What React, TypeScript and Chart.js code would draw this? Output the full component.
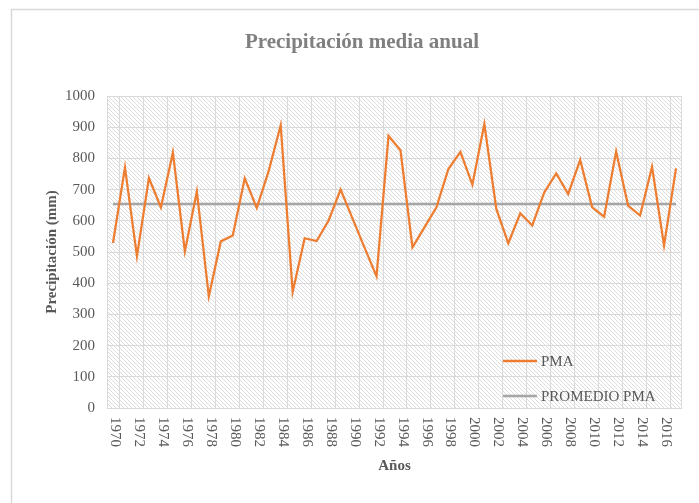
import React, { useEffect, useRef } from "react";
import { Chart, registerables } from "chart.js";

Chart.register(...registerables);

const years: string[] = [
  "1970", "1971", "1972", "1973", "1974", "1975", "1976", "1977", "1978", "1979",
  "1980", "1981", "1982", "1983", "1984", "1985", "1986", "1987", "1988", "1989",
  "1990", "1991", "1992", "1993", "1994", "1995", "1996", "1997", "1998", "1999",
  "2000", "2001", "2002", "2003", "2004", "2005", "2006", "2007", "2008", "2009",
  "2010", "2011", "2012", "2013", "2014", "2015", "2016", "2017",
];

const pma: number[] = [
  529, 771, 487, 737, 643, 819, 502, 694, 358, 534,
  553, 736, 641, 760, 906, 372, 544, 535, 601, 700,
  607, 514, 422, 872, 826, 515, 579, 643, 766, 821,
  716, 910, 638, 528, 624, 585, 691, 752, 686, 795,
  643, 613, 822, 649, 617, 773, 521, 768,
];

const promedioValue = 654;
const promedioPma: number[] = years.map(() => promedioValue);

const seriesLabels: string[] = ["PMA", "PROMEDIO PMA"];
const seriesColors: string[] = ["#ED7D31", "#A5A5A5"];

const titleText = "Precipitación media anual";
const yTitle = "Precipitación (mm)";
const xTitle = "Años";

const SERIF = "'Liberation Serif', 'Times New Roman', serif";

function makePattern(ctx: CanvasRenderingContext2D): CanvasPattern | string {
  const c = document.createElement("canvas");
  c.width = 4;
  c.height = 4;
  const p = c.getContext("2d");
  if (!p) return "#f0f0f0";
  p.fillStyle = "#ffffff";
  p.fillRect(0, 0, 4, 4);
  p.fillStyle = "#dcdcdc";
  for (let i = 0; i < 4; i++) p.fillRect(i, i, 1, 1);
  return ctx.createPattern(c, "repeat") || "#f0f0f0";
}

const decorPlugin = {
  id: "decor",
  beforeDraw(chart: any) {
    const ctx: CanvasRenderingContext2D = chart.ctx;
    const { left, right, top, bottom } = chart.chartArea;
    ctx.save();
    ctx.fillStyle = "#ffffff";
    ctx.fillRect(0, 0, chart.width, chart.height);
    ctx.strokeStyle = "#d9d9d9";
    ctx.lineWidth = 1.5;
    ctx.strokeRect(11.5, 9.5, 900, 700);
    ctx.fillStyle = makePattern(ctx);
    ctx.fillRect(left, top, right - left, bottom - top);
    const xs = chart.scales.x;
    ctx.strokeStyle = "#d9d9d9";
    ctx.lineWidth = 1;
    ctx.beginPath();
    ctx.moveTo(left + 0.5, top);
    ctx.lineTo(left + 0.5, bottom);
    ctx.moveTo(right - 0.5, top);
    ctx.lineTo(right - 0.5, bottom);
    for (let i = 0; i < years.length - 1; i += 2) {
      const x = Math.round((xs.getPixelForValue(i) + xs.getPixelForValue(i + 1)) / 2) + 0.5;
      ctx.moveTo(x, top);
      ctx.lineTo(x, bottom);
    }
    ctx.stroke();
    ctx.restore();
  },
  afterDraw(chart: any) {
    const ctx: CanvasRenderingContext2D = chart.ctx;
    const { left, right, top, bottom } = chart.chartArea;
    const xs = chart.scales.x;
    ctx.save();
    ctx.fillStyle = "#808080";
    ctx.font = `bold 21px ${SERIF}`;
    ctx.textAlign = "center";
    ctx.textBaseline = "alphabetic";
    ctx.fillText(titleText, 362, 48);
    ctx.fillStyle = "#595959";
    ctx.font = `bold 15px ${SERIF}`;
    ctx.save();
    ctx.translate(52, (top + bottom) / 2);
    ctx.rotate(-Math.PI / 2);
    ctx.textAlign = "center";
    ctx.textBaseline = "middle";
    ctx.fillText(yTitle, 0, 0);
    ctx.restore();
    ctx.textAlign = "center";
    ctx.textBaseline = "middle";
    ctx.fillText(xTitle, (left + right) / 2, 466);
    ctx.fillStyle = "#595959";
    ctx.font = `15px ${SERIF}`;
    for (let i = 0; i < years.length; i += 2) {
      const x = xs.getPixelForValue(i);
      ctx.save();
      ctx.translate(x + 2, bottom + 9);
      ctx.rotate(Math.PI / 2);
      ctx.textAlign = "left";
      ctx.textBaseline = "middle";
      ctx.fillText(years[i], 0, 0);
      ctx.restore();
    }
    const legendY = [361, 396];
    chart.data.datasets.forEach((ds: any, k: number) => {
      const y = legendY[k];
      ctx.strokeStyle = ds.borderColor;
      ctx.lineWidth = 2.5;
      ctx.beginPath();
      ctx.moveTo(503, y);
      ctx.lineTo(537, y);
      ctx.stroke();
      ctx.fillStyle = "#595959";
      ctx.font = `15px ${SERIF}`;
      ctx.textAlign = "left";
      ctx.textBaseline = "middle";
      ctx.fillText(ds.label, 541, y + 1);
    });
    ctx.restore();
  },
};

export default function App() {
  const ref = useRef<HTMLCanvasElement | null>(null);
  useEffect(() => {
    if (!ref.current) return;
    const chart = new Chart(ref.current, {
      type: "line",
      data: {
        labels: years,
        datasets: [
          {
            label: seriesLabels[0],
            data: pma,
            borderColor: seriesColors[0],
            backgroundColor: seriesColors[0],
            borderWidth: 2.25,
            pointRadius: 0,
            tension: 0,
            fill: false,
          },
          {
            label: seriesLabels[1],
            data: promedioPma,
            borderColor: seriesColors[1],
            backgroundColor: seriesColors[1],
            borderWidth: 2.5,
            pointRadius: 0,
            tension: 0,
            fill: false,
          },
        ],
      },
      options: {
        responsive: false,
        animation: false,
        layout: { padding: { left: 0, top: 96, right: 17, bottom: 0 } },
        plugins: {
          legend: { display: false },
          title: { display: false },
          tooltip: { enabled: false },
        },
        scales: {
          x: {
            type: "category",
            offset: true,
            grid: { display: false },
            border: { display: false },
            ticks: { display: false },
            afterFit: (s: any) => {
              s.height = 95;
            },
          },
          y: {
            min: 0,
            max: 1000,
            grid: { color: "#d9d9d9", drawTicks: false, lineWidth: 1 },
            border: { display: false },
            ticks: {
              stepSize: 100,
              padding: 12,
              color: "#595959",
              font: { family: SERIF, size: 15 },
              callback: (v: any) => String(v),
            },
            afterFit: (s: any) => {
              s.width = 107;
            },
          },
        },
      },
      plugins: [decorPlugin],
    });
    return () => chart.destroy();
  }, []);
  return (
    <div style={{ position: "absolute", left: 0, top: 0, width: 699, height: 503 }}>
      <canvas ref={ref} width={699} height={503} style={{ display: "block", width: 699, height: 503 }} />
    </div>
  );
}
